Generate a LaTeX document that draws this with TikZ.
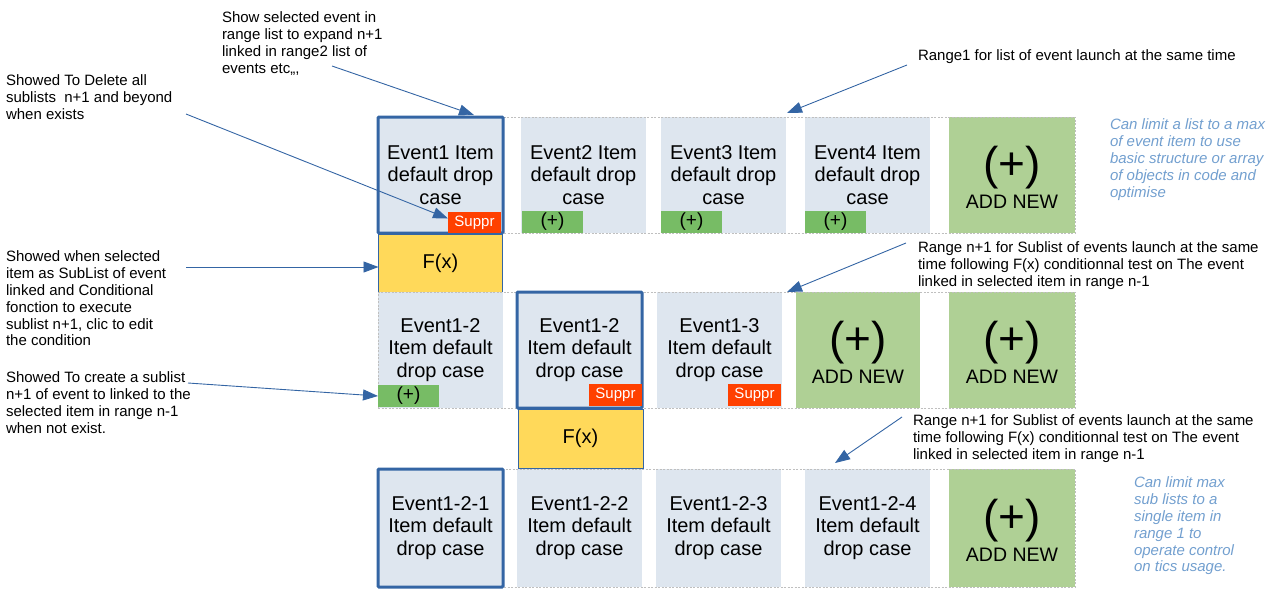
\documentclass[tikz,border=0pt]{standalone}
\usepackage{fontspec}
\setmainfont{Liberation Sans}
\usetikzlibrary{arrows.meta,calc}
\definecolor{boxbg}{HTML}{DEE6EF}
\definecolor{addgreen}{HTML}{AFD095}
\definecolor{plusgreen}{HTML}{77BC65}
\definecolor{supprred}{HTML}{FF4000}
\definecolor{fxyellow}{HTML}{FFD95A}
\definecolor{selblue}{HTML}{3465A4}
\definecolor{noteblue}{HTML}{729FCF}
\begin{document}
\begin{tikzpicture}[x=1pt,y=-1pt,
  every node/.style={inner sep=0pt,outer sep=0pt},
  evbox/.style={anchor=north west,fill=boxbg,minimum width=125,minimum height=116,align=center,font=\fontsize{20}{22.5}\selectfont},
  sel/.style={draw=selblue,line width=3pt,rounded corners=1pt},
  addbox/.style={anchor=north west,fill=addgreen,minimum width=126,minimum height=116},
  bigplus/.style={font=\fontsize{46}{46}\selectfont},
  addtxt/.style={anchor=base,font=\fontsize{19.5}{19.5}\selectfont},
  plusbox/.style={anchor=north west,fill=plusgreen,minimum width=61,minimum height=22,font=\fontsize{19}{19}\selectfont},
  supprbox/.style={anchor=north west,fill=supprred,text=white,minimum width=53,minimum height=21,font=\fontsize{15}{15}\selectfont},
  fxbox/.style={anchor=north west,fill=fxyellow,draw=selblue,line width=0.8pt,minimum width=124,minimum height=58,font=\fontsize{20}{20}\selectfont},
  cont/.style={anchor=north west,draw=black!25,dash pattern=on 2pt off 1.5pt,line width=0.8pt,minimum width=697,minimum height=116},
  note/.style={anchor=north west,align=left,font=\fontsize{15}{16.8}\selectfont},
  inote/.style={anchor=north west,align=left,text=noteblue,font=\fontsize{15}{16.8}\selectfont\itshape},
  arr/.style={draw=selblue,line width=0.9pt,-{Triangle[length=15pt,width=11pt]}}
]
\useasboundingbox (0,0) rectangle (1277,603);

% ---------- Row 1 ----------
\node[evbox] (e11) at (378,117) {Event1 Item\\default drop\\case};
\node[evbox] (e12) at (521,117) {Event2 Item\\default drop\\case};
\node[evbox] (e13) at (661,117) {Event3 Item\\default drop\\case};
\node[evbox] (e14) at (805,117) {Event4 Item\\default drop\\case};
\node[addbox] (a1) at (949,117) {};
\node[bigplus] (a1p) at ($(a1.center)+(0,-7.5)$) {(+)};
\node[addtxt] (a1t) at ($(a1.center)+(0,33)$) {ADD NEW};
\node[cont] (c1) at (378,117) {};
\draw[sel] (e11.north west) rectangle (e11.south east);
\node[plusbox] (p12) at (522,211) {(+)};
\node[plusbox] (p13) at (661,211) {(+)};
\node[plusbox] (p14) at (805,211) {(+)};
\node[supprbox] (s11) at (448,212) {Suppr};
\node[fxbox] (f1) at (378.5,234) {F(x)};

% ---------- Row 2 ----------
\node[evbox] (e21) at (378,292) {Event1-2\\Item default\\drop case};
\node[evbox] (e22) at (517,292) {Event1-2\\Item default\\drop case};
\node[evbox] (e23) at (657,292) {Event1-3\\Item default\\drop case};
\node[addbox,minimum width=124] (a2) at (796,292) {};
\node[bigplus] (a2p) at ($(a2.center)+(0,-7.5)$) {(+)};
\node[addtxt] (a2t) at ($(a2.center)+(0,33)$) {ADD NEW};
\node[addbox] (a3) at (949,292) {};
\node[bigplus] (a3p) at ($(a3.center)+(0,-7.5)$) {(+)};
\node[addtxt] (a3t) at ($(a3.center)+(0,33)$) {ADD NEW};
\node[cont] (c2) at (378,292) {};
\draw[sel] (e22.north west) rectangle (e22.south east);
\node[plusbox] (p21) at (378,385) {(+)};
\node[supprbox,minimum height=22] (s22) at (589,384) {Suppr};
\node[supprbox,minimum height=22] (s23) at (728,384) {Suppr};
\node[fxbox,minimum width=125,minimum height=59] (f2) at (518,409) {F(x)};

% ---------- Row 3 ----------
\node[evbox,minimum height=118] (e31) at (378,469) {Event1-2-1\\Item default\\drop case};
\node[evbox,minimum height=118] (e32) at (517,469) {Event1-2-2\\Item default\\drop case};
\node[evbox,minimum height=118] (e33) at (656,469) {Event1-2-3\\Item default\\drop case};
\node[evbox,minimum height=118] (e34) at (805,469) {Event1-2-4\\Item default\\drop case};
\node[addbox,minimum height=118] (a4) at (949,469) {};
\node[bigplus] (a4p) at ($(a4.center)+(0,-7.5)$) {(+)};
\node[addtxt] (a4t) at ($(a4.center)+(0,33)$) {ADD NEW};
\node[cont,minimum height=118] (c3) at (378,469) {};
\draw[sel] (e31.north west) rectangle (e31.south east);

% ---------- Notes ----------
\node[note] (n1) at (222,12) {Show selected event in\\range list to expand n+1\\linked in range2 list of\\events etc,,,};
\node[note] (n2) at (6,75) {Showed To Delete all\\sublists\ \ n+1 and beyond\\when exists};
\node[note] (n3) at (918,50) {Range1 for list of event launch at the same time};
\node[inote] (n4) at (1110,119) {Can limit a list to a max\\of event item to use\\basic structure or array\\of objects in code and\\optimise};
\node[note] (n5) at (6,251) {Showed when selected\\item as SubList of event\\linked and Conditional\\fonction to execute\\sublist n+1, clic to edit\\the condition};
\node[note] (n6) at (6,372) {Showed To create a sublist\\n+1 of event to linked to the\\selected item in range n-1\\when not exist.};
\node[note] (n7) at (918,242) {Range n+1 for Sublist of events launch at the same\\time following F(x) conditionnal test on The event\\linked in selected item in range n-1};
\node[note] (n8) at (913,415) {Range n+1 for Sublist of events launch at the same\\time following F(x) conditionnal test on The event\\linked in selected item in range n-1};
\node[inote] (n9) at (1134,477) {Can limit max\\sub lists to a\\single item in\\range 1 to\\operate control\\on tics usage.};

% ---------- Connectors ----------
\coordinate (k1) at (332,66);
\coordinate (k2) at (186,114);
\coordinate (k3) at (907,65);
\coordinate (k5) at (186,267);
\coordinate (k6) at (188,383);
\coordinate (k7) at (906,243);
\coordinate (k8) at (902,417);
\coordinate (t1) at (474,115);
\coordinate (t3) at (787,113);
\coordinate (t7) at (787,292);
\coordinate (t8) at (835,463);
\draw[arr] (k1) -- (t1);
\draw[arr] (k2) -- ($(s11.west)+(0,-4)$);
\draw[arr] (k3) -- (t3);
\draw[arr] (k5) -- (f1.west |- k5);
\draw[arr] (k6) -- (p21.west);
\draw[arr] (k7) -- (t7);
\draw[arr] (k8) -- (t8);
\end{tikzpicture}
\end{document}
